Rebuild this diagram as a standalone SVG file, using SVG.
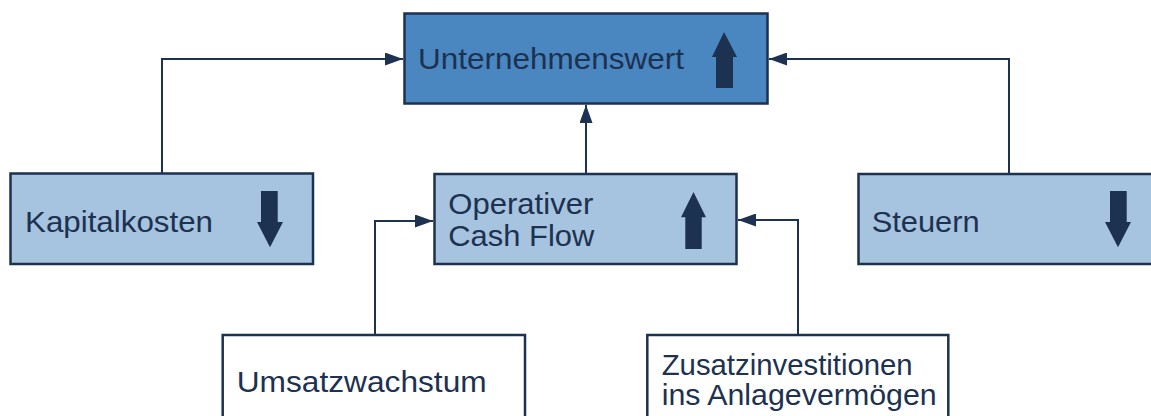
<svg xmlns="http://www.w3.org/2000/svg" width="1151" height="416" viewBox="0 0 1151 416">
<style>
.box{stroke:#1d3150;stroke-width:2.5}
.dark{fill:#4a87c1}
.light{fill:#a6c3df}
.white{fill:#ffffff}
.t{font-family:"Liberation Sans",Arial,sans-serif;font-size:30px;fill:#1d3150}
.ind{fill:#1d3150}
.conn{fill:none;stroke:#1d3150;stroke-width:2}
</style>
<defs>
<marker id="ah" viewBox="0 0 18 13" refX="18" refY="6.5" markerWidth="18" markerHeight="13" markerUnits="userSpaceOnUse" orient="auto">
<path d="M0,0 L18,6.5 L0,13 Z" fill="#1d3150"/>
</marker>
</defs>
<rect width="1151" height="416" fill="#ffffff"/>
<g id="connectors">
<path class="conn" d="M162,174 V59 H403" marker-end="url(#ah)"/>
<path class="conn" d="M1009,174 V59 H769" marker-end="url(#ah)"/>
<path class="conn" d="M586,174 V105" marker-end="url(#ah)"/>
<path class="conn" d="M375,335 V221 H433" marker-end="url(#ah)"/>
<path class="conn" d="M798,335 V220 H738" marker-end="url(#ah)"/>
</g>
<g id="unternehmenswert">
<rect class="box dark" x="404.5" y="13.5" width="363" height="90"/>
<text class="t" x="418" y="69" textLength="266" lengthAdjust="spacingAndGlyphs">Unternehmenswert</text>
<path class="ind" d="M724,32 L737,57 L733,57 L733,88 L716,88 L716,57 L712,57 Z"/>
</g>
<g id="kapitalkosten">
<rect class="box light" x="10.5" y="173.5" width="302.5" height="90.5"/>
<text class="t" x="25" y="231.7" textLength="188" lengthAdjust="spacingAndGlyphs">Kapitalkosten</text>
<path class="ind" d="M261,191 L277.7,191 L277.7,222 L283,222 L270,247.3 L257,222 L261,222 Z"/>
</g>
<g id="operativer-cash-flow">
<rect class="box light" x="434.5" y="174" width="302" height="90"/>
<text class="t" x="448.3" y="214" textLength="145" lengthAdjust="spacingAndGlyphs">Operativer</text>
<text class="t" x="448.3" y="246" textLength="146" lengthAdjust="spacingAndGlyphs">Cash Flow</text>
<path class="ind" d="M693.5,192 L706,217.3 L701.7,217.3 L701.7,249 L685.3,249 L685.3,217.3 L681,217.3 Z"/>
</g>
<g id="steuern">
<rect class="box light" x="858.5" y="174" width="300" height="90"/>
<text class="t" x="871.7" y="231.7" textLength="108" lengthAdjust="spacingAndGlyphs">Steuern</text>
<path class="ind" d="M1110,191 L1126.7,191 L1126.7,222 L1131,222 L1118,247.3 L1105,222 L1110,222 Z"/>
</g>
<g id="umsatzwachstum">
<rect class="box white" x="222.7" y="335" width="302.3" height="100"/>
<text class="t" x="236.7" y="391.7" textLength="250" lengthAdjust="spacingAndGlyphs">Umsatzwachstum</text>
</g>
<g id="zusatzinvestitionen">
<rect class="box white" x="647.3" y="335" width="301" height="100"/>
<text class="t" x="661.7" y="375" textLength="251" lengthAdjust="spacingAndGlyphs">Zusatzinvestitionen</text>
<text class="t" x="661.7" y="405" textLength="275" lengthAdjust="spacingAndGlyphs">ins Anlagevermögen</text>
</g>
</svg>
